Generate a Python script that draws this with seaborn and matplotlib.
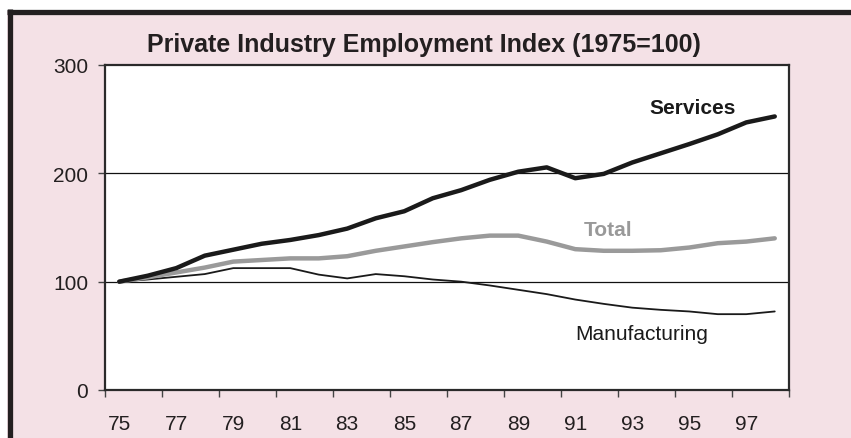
import pandas as pd
import seaborn as sns
import matplotlib.pyplot as plt
from matplotlib.patches import Rectangle
from matplotlib.lines import Line2D

# index values (1975 = 100)
years = list(range(1975, 1999))
services = [100, 105.5, 112.5, 124, 129.5, 135, 138.5, 143, 149, 158.5, 165, 177,
            184.5, 194, 201.5, 205.5, 195.5, 199.5, 210, 218.5, 227, 236, 247, 252.5]
total = [100, 104, 108.5, 113, 118.5, 120, 121.5, 121.5, 123.5, 128.5, 132.5, 136.5,
         140, 142.5, 142.5, 137, 130, 128.5, 128.5, 129, 131.5, 135.5, 137, 140]
manufacturing = [100, 102, 104.5, 107, 112.5, 112.5, 112.5, 106.5, 103, 107, 105, 102,
                 100, 96.5, 92.5, 88.5, 83.5, 79.5, 76, 74, 72.5, 70, 70, 72.5]
year_labels = [str(y)[2:] for y in years[::2]]

df = pd.DataFrame({'Year': years, 'Services': services, 'Total': total,
                   'Manufacturing': manufacturing})

sns.set_style('white')
plt.rcParams['font.family'] = ['Liberation Sans', 'DejaVu Sans']

pink = '#f4e1e6'
fig = plt.figure(figsize=(8.51, 4.39), dpi=100)
fig.patch.set_facecolor('white')

# pink panel with a dark frame on the top and left edges
fig.patches.append(Rectangle((7 / 851, 0), 1, 1 - 12 / 439, transform=fig.transFigure,
                             facecolor=pink, edgecolor='none', zorder=-2))
fig.lines.append(Line2D([9.5 / 851, 9.5 / 851], [0, 1 - 10 / 439], transform=fig.transFigure,
                        color='#231f20', lw=3.8, solid_capstyle='butt'))
fig.lines.append(Line2D([7 / 851, 1], [1 - 12.5 / 439, 1 - 12.5 / 439], transform=fig.transFigure,
                        color='#231f20', lw=3.8, solid_capstyle='butt'))

ax = fig.add_axes([105 / 851, 1 - 391 / 439, 684 / 851, 325 / 439])
ax.set_facecolor('white')

sns.lineplot(data=df, x='Year', y='Services', ax=ax, color='#1a1a1a', lw=3.2, zorder=4)
sns.lineplot(data=df, x='Year', y='Total', ax=ax, color='#9a9a9a', lw=3.2, zorder=3)
sns.lineplot(data=df, x='Year', y='Manufacturing', ax=ax, color='#1a1a1a', lw=1.3, zorder=2)

ax.set_xlim(years[0] - 0.5, years[-1] + 0.5)
ax.set_ylim(0, 300)
ax.set_yticks([0, 100, 200, 300])
ax.set_xticks(years[::2])
ax.set_xticklabels(year_labels)
ax.set_xticks([years[0] - 0.5 + 2 * k for k in range(13)], minor=True)
ax.tick_params(axis='x', which='major', length=0, pad=17, labelsize=15, colors='#231f20')
ax.tick_params(axis='x', which='minor', length=5, width=1, direction='out', color='#444444',
               bottom=True)
ax.tick_params(axis='y', length=5, width=1, direction='out', pad=7, labelsize=15,
               colors='#231f20', left=True)
ax.tick_params(axis='y', colors='#444444', labelcolor='#231f20')

ax.set_xlabel('')
ax.set_ylabel('')
for y in [100, 200]:
    ax.axhline(y, color='#111111', lw=0.9, zorder=1)
for s in ax.spines.values():
    s.set_color('#2a2a2a')
    s.set_linewidth(1.6)

ax.text(1995.13, 261, 'Services', fontsize=15, fontweight='bold', color='#1a1a1a',
        ha='center', va='center')
ax.text(1992.15, 148.6, 'Total', fontsize=15, fontweight='bold', color='#999999',
        ha='center', va='center')
ax.text(1993.34, 51.7, 'Manufacturing', fontsize=15, color='#1a1a1a',
        ha='center', va='center')

fig.text(424 / 851, 1 - 45 / 439, 'Private Industry Employment Index (1975=100)',
         fontsize=18, fontweight='bold', color='#231f20', ha='center', va='center')

fig.savefig('out.png', dpi=100, facecolor=fig.get_facecolor())
